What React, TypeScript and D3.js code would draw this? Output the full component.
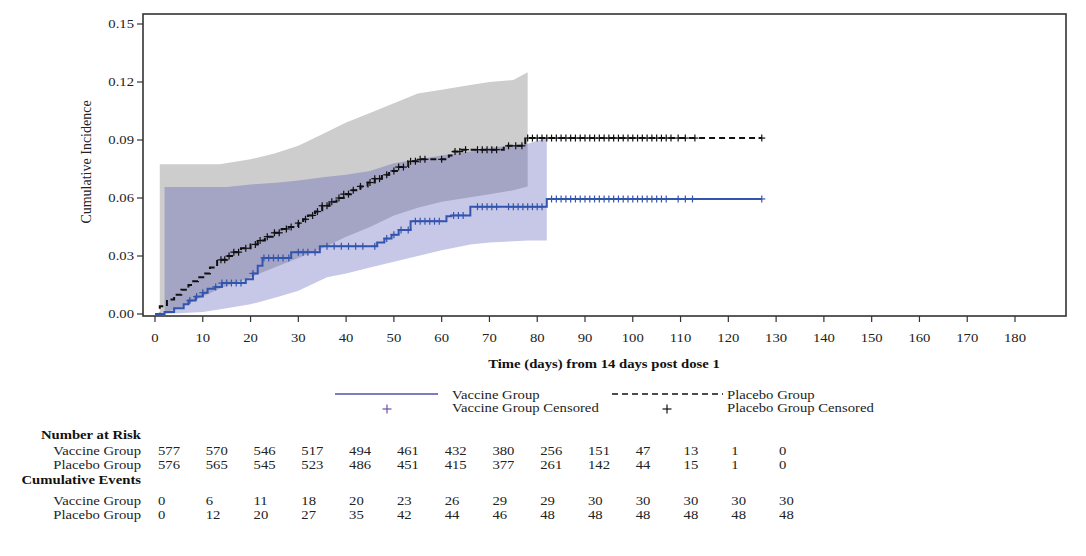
import React from 'react';
import * as d3 from 'd3';

// axis ticks
const xTicks = [0, 10, 20, 30, 40, 50, 60, 70, 80, 90, 100, 110, 120, 130, 140, 150, 160, 170, 180];
const yTicks = [0, 0.03, 0.06, 0.09, 0.12, 0.15];

// risk table
const tableDays = [0, 10, 20, 30, 40, 50, 60, 70, 80, 90, 100, 110, 120, 130];
const vaccineAtRisk = [577, 570, 546, 517, 494, 461, 432, 380, 256, 151, 47, 13, 1, 0];
const placeboAtRisk = [576, 565, 545, 523, 486, 451, 415, 377, 261, 142, 44, 15, 1, 0];
const vaccineEvents = [0, 6, 11, 18, 20, 23, 26, 29, 29, 30, 30, 30, 30, 30];
const placeboEvents = [0, 12, 20, 27, 35, 42, 44, 46, 48, 48, 48, 48, 48, 48];

// step curves [day, cumulative incidence]
const vaccineSteps: [number, number][] = [
  [0, 0], [2, 0.001], [4, 0.003], [6, 0.005], [7, 0.007], [8.5, 0.009], [10, 0.011],
  [11, 0.013], [12.5, 0.014], [14, 0.016], [19, 0.018], [20.5, 0.021], [21.5, 0.025],
  [22.5, 0.029], [28.5, 0.032], [34.5, 0.035], [46.5, 0.037], [48, 0.039], [49.5, 0.041],
  [51, 0.0435], [53.5, 0.048], [61, 0.0505], [62, 0.051], [66, 0.0555], [82, 0.0595],
  [127, 0.0595],
];
const placeboSteps: [number, number][] = [
  [0, 0], [1, 0.004], [2.5, 0.0075], [4, 0.010], [5.5, 0.0125], [7, 0.015], [8, 0.017],
  [9, 0.019], [10.5, 0.021], [11.5, 0.024], [13, 0.028], [15, 0.030], [16.5, 0.032],
  [18, 0.034], [20, 0.036], [21.5, 0.038], [23, 0.040], [25, 0.042], [26.5, 0.044],
  [28, 0.045], [30, 0.047], [31, 0.049], [32, 0.051], [33.5, 0.053], [35, 0.056],
  [36.5, 0.058], [38, 0.060], [39.5, 0.062], [41, 0.064], [43, 0.066], [44.5, 0.068],
  [46, 0.070], [47.5, 0.072], [49, 0.074], [51, 0.076], [53, 0.079], [55, 0.080],
  [61.5, 0.082], [62.5, 0.084], [64, 0.085], [73, 0.087], [77.5, 0.091], [127, 0.091],
];

// censoring times
const vaccineCensored = [
  7.3, 8.7, 10, 12.7, 14, 15, 16, 17, 18, 20.5, 22.8, 23.8, 24.8, 25.8, 26.8, 28,
  30, 31, 32, 33.5, 36, 37.5, 39, 40.5, 42, 43.5, 46, 48.5, 50, 51.5, 53, 54.5, 55.5,
  56.5, 57.5, 58.5, 59.5, 62.5, 63.5, 64.5, 67.5, 68.5, 69.5, 70.5, 71.5, 74, 75, 76,
  77, 78, 79, 80, 81, 83, 84, 85, 86, 87, 88, 89, 90, 91, 92, 93, 94, 95, 96, 97, 98,
  99, 100, 101, 102, 103, 104, 105, 106, 107, 109.5, 111, 112.5, 127,
];
const placeboCensored = [
  13.8, 14.6, 15.5, 16.5, 17.5, 19, 21, 22, 23.5, 25, 26, 27.5, 28.5, 30, 31.5, 33,
  34, 35, 36, 37, 38.5, 39.5, 40.5, 41.5, 43, 45, 46, 47, 48.5, 50, 51, 52, 53.5, 54.5,
  55.5, 56.5, 60, 62.8, 63.8, 65, 67.5, 68.5, 69.5, 70.5, 71.5, 74, 75.5, 76.8, 78,
  79, 80, 81, 82, 83, 84, 85, 86, 87, 88, 89, 90, 91, 92, 93, 94, 95, 96, 97, 98, 99,
  100, 101, 102, 103, 104, 105, 106, 107, 108, 109.5, 111, 113, 127,
];

// confidence bands
const placeboBandDays = [1, 5, 10, 13.5, 20, 25, 30, 35, 40, 45, 50, 55, 60, 65, 70, 75, 78];
const placeboBandLow = [0, 0.003, 0.009, 0.013, 0.019, 0.024, 0.029, 0.034, 0.040, 0.045, 0.051, 0.055, 0.058, 0.060, 0.062, 0.064, 0.066];
const placeboBandHigh = [0.0775, 0.0775, 0.0775, 0.0775, 0.080, 0.083, 0.087, 0.093, 0.099, 0.104, 0.109, 0.114, 0.116, 0.118, 0.120, 0.121, 0.125];
const vaccineBandDays = [2, 10, 15, 20, 26, 30, 36, 40, 45, 50, 55, 60, 66, 70, 78, 82];
const vaccineBandLow = [0, 0.001, 0.003, 0.005, 0.009, 0.012, 0.019, 0.021, 0.024, 0.027, 0.030, 0.033, 0.036, 0.037, 0.038, 0.038];
const vaccineBandHigh = [0.0657, 0.0657, 0.0657, 0.067, 0.068, 0.069, 0.071, 0.072, 0.074, 0.078, 0.080, 0.082, 0.084, 0.086, 0.088, 0.091];

const FONT = '"Liberation Serif", "Times New Roman", serif';
const VAX_BLUE = '#3355ad';
const SX = 1.13; // the source text is a little wider than plain Times

function valueAt(steps: [number, number][], t: number) {
  let v = 0;
  for (const [d, val] of steps) if (d <= t) v = val;
  return v;
}

function T({ x, y, anchor = 'start', bold = false, size = 13, children }: any) {
  return (
    <text
      transform={`translate(${x},${y}) scale(${SX},1)`}
      textAnchor={anchor}
      fontSize={size}
      fontWeight={bold ? 'bold' : 'normal'}
      fill={bold ? '#111' : '#222'}
    >
      {children}
    </text>
  );
}

function Plus({ cx, cy, color, s = 3.5 }: { cx: number; cy: number; color: string; s?: number }) {
  return (
    <g stroke={color} strokeWidth={1.2}>
      <line x1={cx - s} x2={cx + s} y1={cy} y2={cy} />
      <line x1={cx} x2={cx} y1={cy - s} y2={cy + s} />
    </g>
  );
}

export default function App() {
  const x = d3.scaleLinear().domain([0, 180]).range([155, 1015]);
  const y = d3.scaleLinear().domain([0, 0.15]).range([314, 24]);

  const stepLine = d3
    .line<[number, number]>()
    .x((d) => x(d[0]))
    .y((d) => y(d[1]))
    .curve(d3.curveStepAfter);

  const band = d3
    .area<{ day: number; lo: number; hi: number }>()
    .x((d) => x(d.day))
    .y0((d) => y(d.lo))
    .y1((d) => y(d.hi));

  const placeboBand = placeboBandDays.map((day, i) => ({ day, lo: placeboBandLow[i], hi: placeboBandHigh[i] }));
  const vaccineBand = vaccineBandDays.map((day, i) => ({ day, lo: vaccineBandLow[i], hi: vaccineBandHigh[i] }));

  const left = 143, right = 1066, top = 14, bottom = 316;
  const labelRight = 141;

  const rows = [
    { label: 'Vaccine Group', values: vaccineAtRisk, yy: 455 },
    { label: 'Placebo Group', values: placeboAtRisk, yy: 469 },
    { label: 'Vaccine Group', values: vaccineEvents, yy: 505 },
    { label: 'Placebo Group', values: placeboEvents, yy: 519 },
  ];

  return (
    <svg
      width={1086}
      height={556}
      style={{ position: 'absolute', left: 0, top: 0, background: '#fff' }}
      fontFamily={FONT}
    >
      {/* confidence bands */}
      <path d={band(placeboBand) || ''} fill="#cdcdcd" />
      <path d={band(vaccineBand) || ''} fill="rgb(70,70,180)" fillOpacity={0.3} />

      {/* frame */}
      <rect x={left} y={top} width={right - left} height={bottom - top} fill="none" stroke="#333" strokeWidth={1.6} />

      {/* y axis */}
      {yTicks.map((t) => (
        <g key={t}>
          <line x1={left - 6} x2={left} y1={y(t)} y2={y(t)} stroke="#333" strokeWidth={1.2} />
          <T x={left - 9} y={y(t) + 4} anchor="end">{d3.format('.2f')(t)}</T>
        </g>
      ))}
      <text transform={`translate(91,162) rotate(-90)`} textAnchor="middle" fontSize={14} fill="#222">
        Cumulative Incidence
      </text>

      {/* x axis */}
      {xTicks.map((t) => (
        <g key={t}>
          <line x1={x(t)} x2={x(t)} y1={bottom} y2={bottom + 6} stroke="#333" strokeWidth={1.2} />
          <T x={x(t)} y={342} anchor="middle">{t}</T>
        </g>
      ))}
      <T x={604} y={368} anchor="middle" bold>Time (days) from 14 days post dose 1</T>

      {/* curves */}
      <path d={stepLine(placeboSteps) || ''} fill="none" stroke="#111" strokeWidth={2} strokeDasharray="6,4" />
      <path d={stepLine(vaccineSteps) || ''} fill="none" stroke={VAX_BLUE} strokeWidth={2} />
      {placeboCensored.map((t, i) => (
        <Plus key={'p' + i} cx={x(t)} cy={y(valueAt(placeboSteps, t))} color="#111" />
      ))}
      {vaccineCensored.map((t, i) => (
        <Plus key={'v' + i} cx={x(t)} cy={y(valueAt(vaccineSteps, t))} color={VAX_BLUE} />
      ))}

      {/* legend */}
      <line x1={335} x2={438} y1={394} y2={394} stroke="#5050b0" strokeWidth={1.6} />
      <T x={452} y={399}>Vaccine Group</T>
      <Plus cx={387} cy={409} color="#6a50b0" s={4.5} />
      <T x={452} y={412}>Vaccine Group Censored</T>
      <line x1={612} x2={723} y1={394} y2={394} stroke="#111" strokeWidth={1.6} strokeDasharray="6,4" />
      <T x={727} y={399}>Placebo Group</T>
      <Plus cx={667} cy={409} color="#111" s={4.5} />
      <T x={727} y={412}>Placebo Group Censored</T>

      {/* risk table */}
      <T x={labelRight} y={439} anchor="end" bold>Number at Risk</T>
      <T x={labelRight} y={484} anchor="end" bold>Cumulative Events</T>
      {rows.map((r, ri) => (
        <g key={ri}>
          <T x={labelRight} y={r.yy} anchor="end">{r.label}</T>
          {r.values.map((v, i) => (
            <T key={i} x={x(tableDays[i]) + 3} y={r.yy}>{v}</T>
          ))}
        </g>
      ))}
    </svg>
  );
}
